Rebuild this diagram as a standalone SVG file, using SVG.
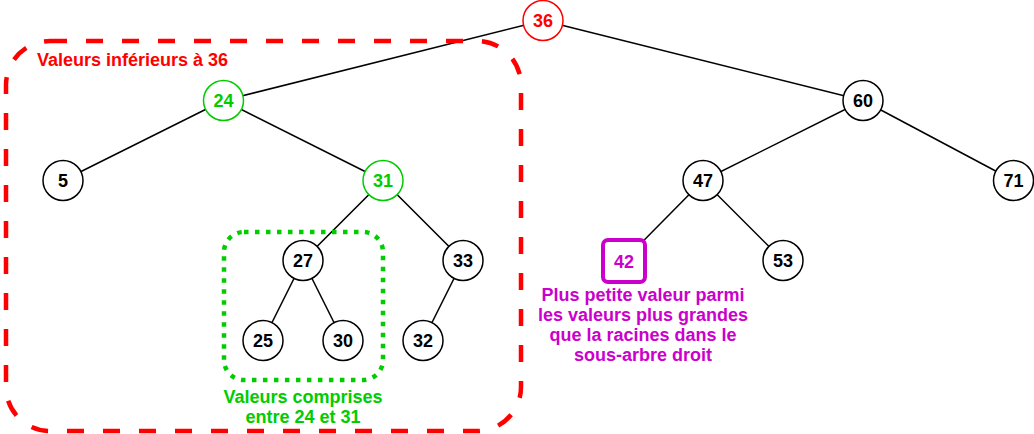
<svg xmlns="http://www.w3.org/2000/svg" width="1034" height="434" viewBox="0 0 1034 434">
<style>
.n circle{fill:#fff;stroke:#000;stroke-width:1.5}
.n text,.lbl{font-family:"Liberation Sans",Arial,sans-serif;font-weight:bold;text-anchor:middle}
.n text{font-size:18px;fill:#000}
.lbl{font-size:18px}
.e line{stroke:#000;stroke-width:1.5}
</style>
<g id="edges" class="e">
<line x1="543" y1="20.5" x2="223.5" y2="100.5"/>
<line x1="543" y1="20.5" x2="863" y2="100.5"/>
<line x1="223.5" y1="100.5" x2="63" y2="180.5"/>
<line x1="223.5" y1="100.5" x2="383" y2="180.5"/>
<line x1="383" y1="180.5" x2="303" y2="260.5"/>
<line x1="383" y1="180.5" x2="463" y2="260.5"/>
<line x1="303" y1="260.5" x2="263" y2="340.5"/>
<line x1="303" y1="260.5" x2="343" y2="340.5"/>
<line x1="463" y1="260.5" x2="423" y2="340.5"/>
<line x1="863" y1="100.5" x2="703" y2="180.5"/>
<line x1="863" y1="100.5" x2="1013.5" y2="180.5"/>
<line x1="703" y1="180.5" x2="624" y2="260.5"/>
<line x1="703" y1="180.5" x2="783" y2="260.5"/>
</g>
<g id="n36" class="n"><circle cx="543" cy="20.5" r="20" style="stroke:#ff0000"/><text x="543" y="27" style="fill:#ff0000">36</text></g>
<g id="n24" class="n"><circle cx="223.5" cy="100.5" r="20" style="stroke:#00cc00"/><text x="223.5" y="107" style="fill:#00cc00">24</text></g>
<g id="n60" class="n"><circle cx="863" cy="100.5" r="20"/><text x="863" y="107">60</text></g>
<g id="n5" class="n"><circle cx="63" cy="180.5" r="20"/><text x="63" y="187">5</text></g>
<g id="n31" class="n"><circle cx="383" cy="180.5" r="20" style="stroke:#00cc00"/><text x="383" y="187" style="fill:#00cc00">31</text></g>
<g id="n47" class="n"><circle cx="703" cy="180.5" r="20"/><text x="703" y="187">47</text></g>
<g id="n71" class="n"><circle cx="1013.5" cy="180.5" r="20"/><text x="1013.5" y="187">71</text></g>
<g id="n27" class="n"><circle cx="303" cy="260.5" r="20"/><text x="303" y="267">27</text></g>
<g id="n33" class="n"><circle cx="463" cy="260.5" r="20"/><text x="463" y="267">33</text></g>
<g id="n42" class="n"><rect x="603" y="240" width="42" height="42" rx="5" fill="#fff" stroke="#cc00cc" stroke-width="4"/><text x="624" y="267.5" style="fill:#cc00cc">42</text></g>
<g id="n53" class="n"><circle cx="783" cy="260.5" r="20"/><text x="783" y="267">53</text></g>
<g id="n25" class="n"><circle cx="263" cy="340.5" r="20"/><text x="263" y="347">25</text></g>
<g id="n30" class="n"><circle cx="343" cy="340.5" r="20"/><text x="343" y="347">30</text></g>
<g id="n32" class="n"><circle cx="423" cy="340.5" r="20"/><text x="423" y="347">32</text></g>
<g id="regions">
<rect x="6" y="41" width="515" height="390" rx="44" fill="none" stroke="#ff0000" stroke-width="4.5" stroke-dasharray="17 19"/>
<rect x="224" y="232" width="159" height="148" rx="20" fill="none" stroke="#00cc00" stroke-width="4.5" stroke-dasharray="4.5 6.5"/>
</g>
<g id="labels">
<text class="lbl" x="37" y="66" style="text-anchor:start" fill="#ff0000">Valeurs inférieurs à 36</text>
<text class="lbl" fill="#00cc00"><tspan x="303" y="403">Valeurs comprises</tspan><tspan x="303" y="423">entre 24 et 31</tspan></text>
<text class="lbl" fill="#cc00cc"><tspan x="643" y="301">Plus petite valeur parmi</tspan><tspan x="643" y="321">les valeurs plus grandes</tspan><tspan x="643" y="341">que la racines dans le</tspan><tspan x="643" y="361">sous-arbre droit</tspan></text>
</g>
</svg>
